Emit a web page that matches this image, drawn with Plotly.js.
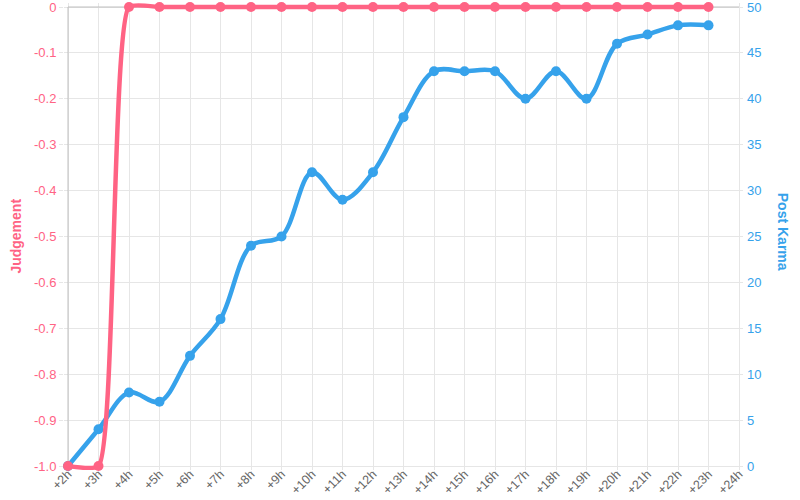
<!DOCTYPE html>
<html>
<head>
<meta charset="utf-8">
<script src="https://cdn.plot.ly/plotly-3.0.1.min.js"></script>
<style>
html,body{margin:0;padding:0;background:#fff;}
#chart{width:800px;height:500px;}
</style>
</head>
<body>
<div id="chart"></div>
<script>
// ---- data ----
const hours = ["+2h","+3h","+4h","+5h","+6h","+7h","+8h","+9h","+10h","+11h","+12h","+13h",
               "+14h","+15h","+16h","+17h","+18h","+19h","+20h","+21h","+22h","+23h","+24h"];
const judgement = [-1,-1,0,0,0,0,0,0,0,0,0,0,0,0,0,0,0,0,0,0,0,0];
const postKarma = [0,4,8,7,12,16,24,25,32,29,32,38,43,43,43,40,43,40,46,47,48,48];
const judgementTickVals = [-1,-0.9,-0.8,-0.7,-0.6,-0.5,-0.4,-0.3,-0.2,-0.1,0];
const judgementTickText = ["-1.0","-0.9","-0.8","-0.7","-0.6","-0.5","-0.4","-0.3","-0.2","-0.1","0"];
const karmaTickVals = [0,5,10,15,20,25,30,35,40,45,50];
const karmaTickText = ["0","5","10","15","20","25","30","35","40","45","50"];

// ---- styling ----
const RED = "#ff6384", BLUE = "#36a2eb", GRID = "#e6e6e6", EDGE = "#bfbfbf";
const FONT = "Liberation Sans, Arial, sans-serif";
const padPx = 4, plotH = 459, catW = 30.5;
const py = padPx / plotH, px = padPx / catW;
const nCat = hours.length - 1;

const traces = [
  {
    x: hours.slice(0, postKarma.length), y: postKarma, yaxis: "y",
    type: "scatter", mode: "lines+markers", name: "Post Karma",
    line: {color: BLUE, width: 4.5, shape: "spline", smoothing: 1},
    marker: {color: BLUE, size: 10}, cliponaxis: false, hoverinfo: "none"
  },
  {
    x: hours.slice(0, judgement.length), y: judgement, yaxis: "y2",
    type: "scatter", mode: "lines+markers", name: "Judgement",
    line: {color: RED, width: 4.5, shape: "spline", smoothing: 0.5},
    marker: {color: RED, size: 10}, cliponaxis: false, hoverinfo: "none"
  }
];

const layout = {
  width: 800, height: 500,
  margin: {l: 64, r: 57, t: 3, b: 30, pad: 0},
  paper_bgcolor: "#fff", plot_bgcolor: "#fff",
  showlegend: false,
  font: {family: FONT},
  xaxis: {
    type: "category", categoryorder: "array", categoryarray: hours,
    range: [-px, nCat + px],
    tickangle: -45, tickfont: {size: 12.5, color: "#666", family: FONT},
    showgrid: true, gridcolor: GRID, gridwidth: 1,
    ticks: "outside", ticklen: 4, tickcolor: GRID,
    ticklabelstandoff: -13, automargin: false,
    zeroline: false, showline: false, fixedrange: true
  },
  yaxis: {
    side: "right",
    range: [-50 * py, 50 + 50 * py],
    tickvals: karmaTickVals, ticktext: karmaTickText,
    tickfont: {size: 13, color: BLUE, family: FONT},
    showgrid: true, gridcolor: GRID, gridwidth: 1,
    ticks: "", zeroline: false, showline: false, fixedrange: true,
    ticklabelstandoff: 3, ticklabeloverflow: "allow", automargin: false
  },
  yaxis2: {
    side: "left", overlaying: "y",
    range: [-1 - py, py],
    tickvals: judgementTickVals, ticktext: judgementTickText,
    tickfont: {size: 13, color: RED, family: FONT},
    showgrid: false, ticks: "outside", ticklen: 4, tickcolor: GRID,
    ticklabeloverflow: "allow", automargin: false,
    zeroline: false, showline: false, fixedrange: true
  },
  shapes: [
    // mask gridline overhang above the top edge and right of the last category
    {type: "rect", xref: "paper", yref: "y", x0: -0.01, x1: 1.01, y0: 50, y1: 50 + 60 * py,
     fillcolor: "#fff", line: {width: 0}, layer: "between"},
    {type: "rect", xref: "x", yref: "paper", x0: nCat, x1: nCat + 2 * px, y0: -0.01, y1: 1.01,
     fillcolor: "#fff", line: {width: 0}, layer: "between"},
    {type: "line", xref: "x", yref: "y", x0: 0, x1: nCat, y0: 50, y1: 50,
     line: {color: EDGE, width: 1}, layer: "between"},
    {type: "line", xref: "x", yref: "y", x0: 0, x1: 0, y0: 0, y1: 50,
     line: {color: EDGE, width: 1}, layer: "between"}
  ],
  annotations: [
    {text: "Judgement", xref: "paper", yref: "paper", x: -0.072, y: 0.5,
     xanchor: "center", yanchor: "middle", textangle: -90, showarrow: false,
     font: {size: 14, color: RED, family: FONT, weight: "bold"}},
    {text: "Post Karma", xref: "paper", yref: "paper", x: 1.059, y: 0.51,
     xanchor: "center", yanchor: "middle", textangle: 90, showarrow: false,
     font: {size: 14, color: BLUE, family: FONT, weight: "bold"}}
  ]
};

Plotly.newPlot("chart", traces, layout, {displayModeBar: false, staticPlot: true});
</script>
</body>
</html>
